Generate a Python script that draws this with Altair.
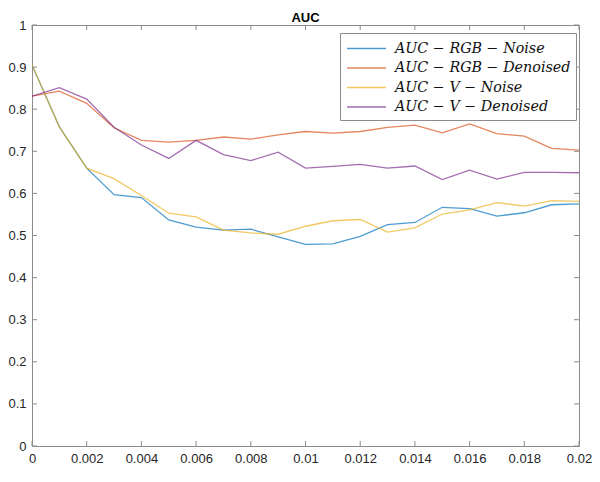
import altair as alt
import pandas as pd

# x positions (noise level)
x_vals = [0, 0.001, 0.002, 0.003, 0.004, 0.005, 0.006, 0.007, 0.008, 0.009, 0.010,
          0.011, 0.012, 0.013, 0.014, 0.015, 0.016, 0.017, 0.018, 0.019, 0.020]

rgb_noise = [0.905, 0.758, 0.660, 0.597, 0.590, 0.537, 0.520, 0.513, 0.515, 0.497, 0.479,
             0.480, 0.498, 0.526, 0.531, 0.567, 0.564, 0.546, 0.554, 0.573, 0.575]
rgb_denoised = [0.831, 0.843, 0.814, 0.756, 0.726, 0.722, 0.726, 0.734, 0.729, 0.739, 0.747,
                0.743, 0.747, 0.757, 0.762, 0.744, 0.765, 0.742, 0.736, 0.707, 0.703]
v_noise = [0.905, 0.758, 0.660, 0.635, 0.595, 0.553, 0.544, 0.513, 0.506, 0.503, 0.522,
           0.535, 0.538, 0.508, 0.518, 0.551, 0.561, 0.578, 0.570, 0.583, 0.581]
v_denoised = [0.831, 0.851, 0.824, 0.757, 0.715, 0.683, 0.726, 0.692, 0.678, 0.698, 0.660,
              0.664, 0.669, 0.660, 0.665, 0.633, 0.655, 0.634, 0.650, 0.650, 0.649]

series_names = ["AUC − RGB − Noise", "AUC − RGB − Denoised",
                "AUC − V − Noise", "AUC − V − Denoised"]
series_colors = ["#0072BD", "#D95319", "#EDB120", "#7E2F8E"]

x_ticks = [0, 0.002, 0.004, 0.006, 0.008, 0.010, 0.012, 0.014, 0.016, 0.018, 0.020]
y_ticks = [0, 0.1, 0.2, 0.3, 0.4, 0.5, 0.6, 0.7, 0.8, 0.9, 1.0]

rows = []
for name, vals in zip(series_names, [rgb_noise, rgb_denoised, v_noise, v_denoised]):
    for xv, v in zip(x_vals, vals):
        rows.append({"x": xv, "AUC": v, "series": name})
df = pd.DataFrame(rows)
xt = pd.DataFrame({"x": x_ticks})
yt = pd.DataFrame({"AUC": y_ticks})

W, H = 547, 421
TL = 5
AX = "#8c8c8c"
xs = alt.Scale(domain=[0, 0.02], nice=False, zero=False)
ys = alt.Scale(domain=[0, 1], nice=False)

axis_common = dict(title=None, ticks=False, tickSize=0, domain=False, grid=False,
                   labelFontSize=13, labelColor="#262626", labelFont="Liberation Sans",
                   labelFlush=False, format="~g", labelPadding=6)
x_axis = alt.Axis(values=x_ticks, **axis_common)
y_axis = alt.Axis(values=y_ticks, **axis_common)

lines = alt.Chart(df).mark_line(strokeWidth=1.3, strokeOpacity=0.7, clip=True).encode(
    x=alt.X("x:Q", scale=xs, axis=x_axis),
    y=alt.Y("AUC:Q", scale=ys, axis=y_axis),
    color=alt.Color("series:N", sort=series_names,
                    scale=alt.Scale(domain=series_names, range=series_colors),
                    legend=alt.Legend(title=None, orient="none", legendX=W - 239, legendY=8,
                                      symbolType="M-2,0H2", symbolSize=380,
                                      symbolStrokeWidth=1.3, symbolOpacity=0.7,
                                      symbolOffset=11, labelOffset=18,
                                      labelFont="DejaVu Serif",
                                      labelFontStyle="italic", labelFontSize=14.3,
                                      labelColor="#111111",
                                      strokeColor=AX, fillColor="white",
                                      padding=5, rowPadding=1.5, labelLimit=400)),
)

bottom_ticks = alt.Chart(xt).mark_rule(color=AX, strokeWidth=1).encode(
    x=alt.X("x:Q", scale=xs, axis=x_axis), y=alt.value(H), y2=alt.value(H - TL))
top_ticks = alt.Chart(xt).mark_rule(color=AX, strokeWidth=1).encode(
    x=alt.X("x:Q", scale=xs, axis=x_axis), y=alt.value(0), y2=alt.value(TL))
left_ticks = alt.Chart(yt).mark_rule(color=AX, strokeWidth=1).encode(
    y=alt.Y("AUC:Q", scale=ys, axis=y_axis), x=alt.value(0), x2=alt.value(TL))
right_ticks = alt.Chart(yt).mark_rule(color=AX, strokeWidth=1).encode(
    y=alt.Y("AUC:Q", scale=ys, axis=y_axis), x=alt.value(W), x2=alt.value(W - TL))

chart = alt.layer(lines, bottom_ticks, top_ticks, left_ticks, right_ticks).properties(
    width=W, height=H,
    title=alt.Title("AUC", fontSize=13, font="Liberation Sans", fontWeight="bold",
                    color="#000000", offset=2, dy=8, anchor="middle"),
    padding={"left": 24, "top": 17, "right": 13, "bottom": 20},
    autosize=alt.AutoSizeParams(type="none"),
    background="white",
).configure_view(stroke=AX, strokeWidth=1)

chart.save("out.html", embed_options={"renderer": "svg", "actions": False})
